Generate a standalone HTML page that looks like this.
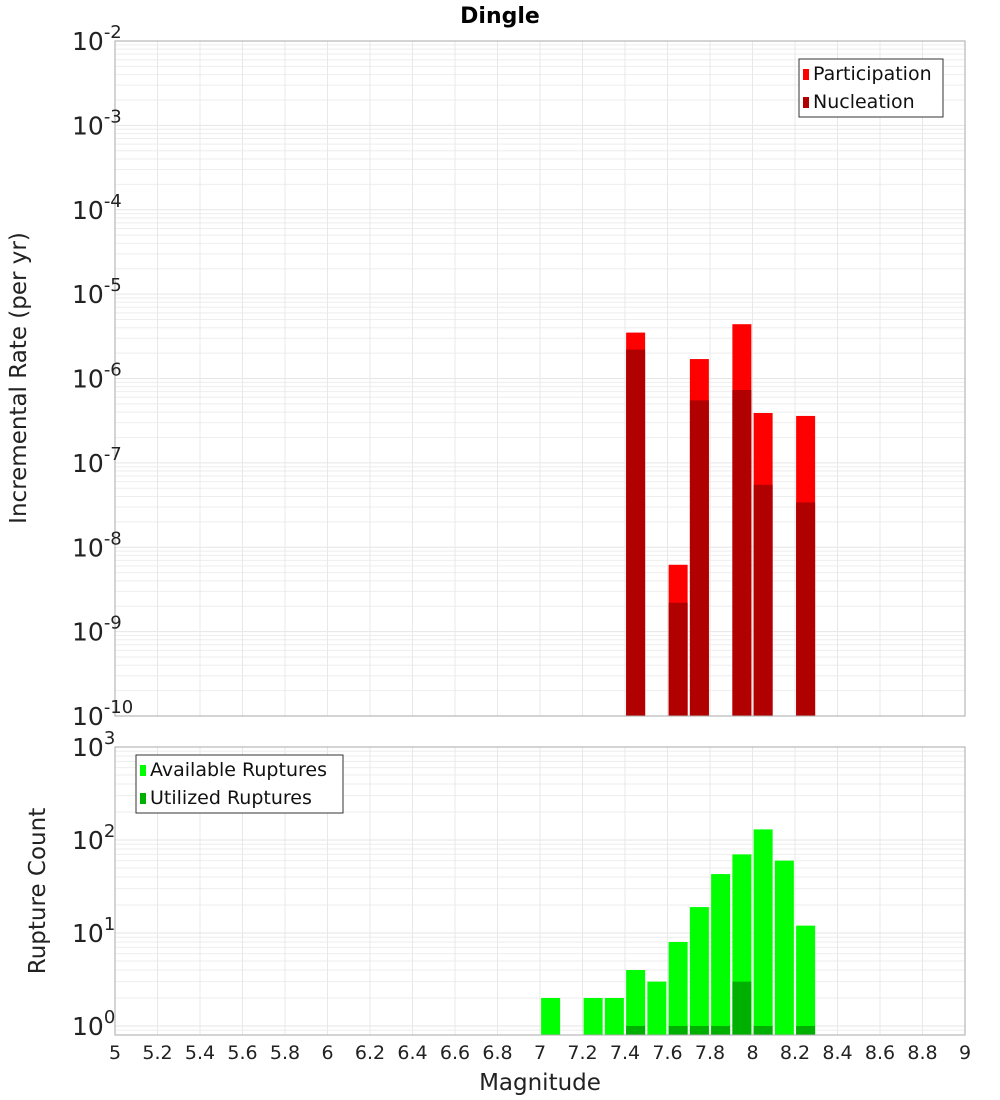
<!DOCTYPE html>
<html><head><meta charset="utf-8"><style>
html,body{margin:0;padding:0;background:#fff;}
svg{display:block;font-family:"DejaVu Sans","Liberation Sans",sans-serif;}
</style></head><body>
<svg id="chart" width="1000" height="1100" xmlns="http://www.w3.org/2000/svg"></svg>
<script>
const binCenters=[7.05,7.25,7.35,7.45,7.55,7.65,7.75,7.85,7.95,8.05,8.15,8.25];
const rateMags=[7.45,7.65,7.75,7.95,8.05,8.25];
const participation=[3.5e-6,6.2e-9,1.7e-6,4.4e-6,3.9e-7,3.6e-7];
const nucleation=[2.2e-6,2.2e-9,5.5e-7,7.3e-7,5.5e-8,3.4e-8];
const available=[2,2,2,4,3,8,19,43,70,130,60,12];
const utilizedMags=[7.45,7.65,7.75,7.85,7.95,8.05,8.25];
const utilized=[1,1,1,1,3,1,1];
const xTicks=[5,5.2,5.4,5.6,5.8,6,6.2,6.4,6.6,6.8,7,7.2,7.4,7.6,7.8,8,8.2,8.4,8.6,8.8,9];
const topExps=[-2,-3,-4,-5,-6,-7,-8,-9,-10];
const botExps=[3,2,1,0];

const NS="http://www.w3.org/2000/svg";
const svg=document.getElementById('chart');
function mk(tag,attrs,parent){const e=document.createElementNS(NS,tag);for(const k in attrs)e.setAttribute(k,attrs[k]);(parent||svg).appendChild(e);return e;}
const L=115,R=965;
const x=m=>L+(m-5)/4*(R-L);
const T1=41,B1=716,yTop=v=>T1+(-2-Math.log10(v))/8*(B1-T1);
const T2=747,B2=1035,lmin=Math.log10(0.8),lmax=Math.log10(1000);
const yBot=v=>B2-(Math.log10(v)-lmin)/(lmax-lmin)*(B2-T2);
const bw=19;

function grid(T,B,yf,decs){
  const g=mk('g',{});
  
  
  for(const d of decs){for(let k=1;k<10;k++){const v=k*Math.pow(10,d);const yy=yf(v);if(yy<T-0.5||yy>B+0.5)continue;
    mk('line',{x1:L,x2:R,y1:yy,y2:yy,stroke:k==1?'#e6e6e6':'#eeeeee','stroke-width':1},g);}}
  for(const t of xTicks){mk('line',{x1:x(t),x2:x(t),y1:T,y2:B,stroke:'#e8e8e8','stroke-width':1},g);}
}
grid(T1,B1,yTop,[-10,-9,-8,-7,-6,-5,-4,-3,-2]);
grid(T2,B2,yBot,[-1,0,1,2,3]);

participation.forEach((v,i)=>{const r=mk('rect',{x:x(rateMags[i])-bw/2,y:yTop(v),width:bw,height:B1-yTop(v),fill:'#ff0000'});
  });
nucleation.forEach((v,i)=>{const r=mk('rect',{x:x(rateMags[i])-bw/2,y:yTop(v),width:bw,height:B1-yTop(v),fill:'#b00000'});
  });
available.forEach((v,i)=>{const r=mk('rect',{x:x(binCenters[i])-bw/2,y:yBot(v),width:bw,height:B2-yBot(v),fill:'#00ff00'});
  });
utilized.forEach((v,i)=>{const r=mk('rect',{x:x(utilizedMags[i])-bw/2,y:yBot(v),width:bw,height:B2-yBot(v),fill:'#00b000'});
  });

let f=mk('rect',{x:L,y:T1,width:R-L,height:B1-T1,fill:'none',stroke:'#aaaaaa'});

f=mk('rect',{x:L,y:T2,width:R-L,height:B2-T2,fill:'none',stroke:'#aaaaaa'});


function ylab(yy,e,name){const t=mk('text',{x:72,y:yy+9,'font-size':25,fill:'#222'});
  
  t.textContent='10';const s=mk('tspan',{dy:-12,'font-size':18},t);s.textContent=String(e);}
topExps.forEach(e=>ylab(yTop(Math.pow(10,e)),e,'y-tick-label'));
botExps.forEach(e=>ylab(yBot(Math.pow(10,e)),e,'y-tick-label'));
xTicks.forEach(t=>{const s=mk('text',{x:x(t),y:1059,'font-size':19,'text-anchor':'middle',fill:'#222'});
  
  s.textContent=String(Math.round(t*10)/10);});

let t=mk('text',{x:500,y:23,'font-size':22,'font-weight':'bold','text-anchor':'middle',fill:'#000'});
t.textContent='Dingle';
t=mk('text',{x:540,y:1090,'font-size':23,'text-anchor':'middle',fill:'#222'});
t.textContent='Magnitude';
t=mk('text',{x:0,y:0,'font-size':23,'text-anchor':'middle',fill:'#222',transform:'translate(26,378) rotate(-90)'});
t.textContent='Incremental Rate (per yr)';
t=mk('text',{x:0,y:0,'font-size':23,'text-anchor':'middle',fill:'#222',transform:'translate(45,891) rotate(-90)'});
t.textContent='Rupture Count';

function legend(x0,y0,w,items,name){const g=mk('g',{});
  mk('rect',{x:x0,y:y0,width:w,height:58,fill:'#fff',stroke:'#333'},g);
  items.forEach((it,i)=>{mk('rect',{x:x0+4,y:y0+10+i*28,width:6,height:11,fill:it[1]},g);
    const s=mk('text',{x:x0+14,y:y0+21+i*28,'font-size':19,fill:'#111'},g);s.textContent=it[0];});}
legend(799,59,144,[['Participation','#ff0000'],['Nucleation','#b00000']],'top-legend');
legend(136,755,207,[['Available Ruptures','#00ff00'],['Utilized Ruptures','#00b000']],'bottom-legend');
</script>
</body></html>
